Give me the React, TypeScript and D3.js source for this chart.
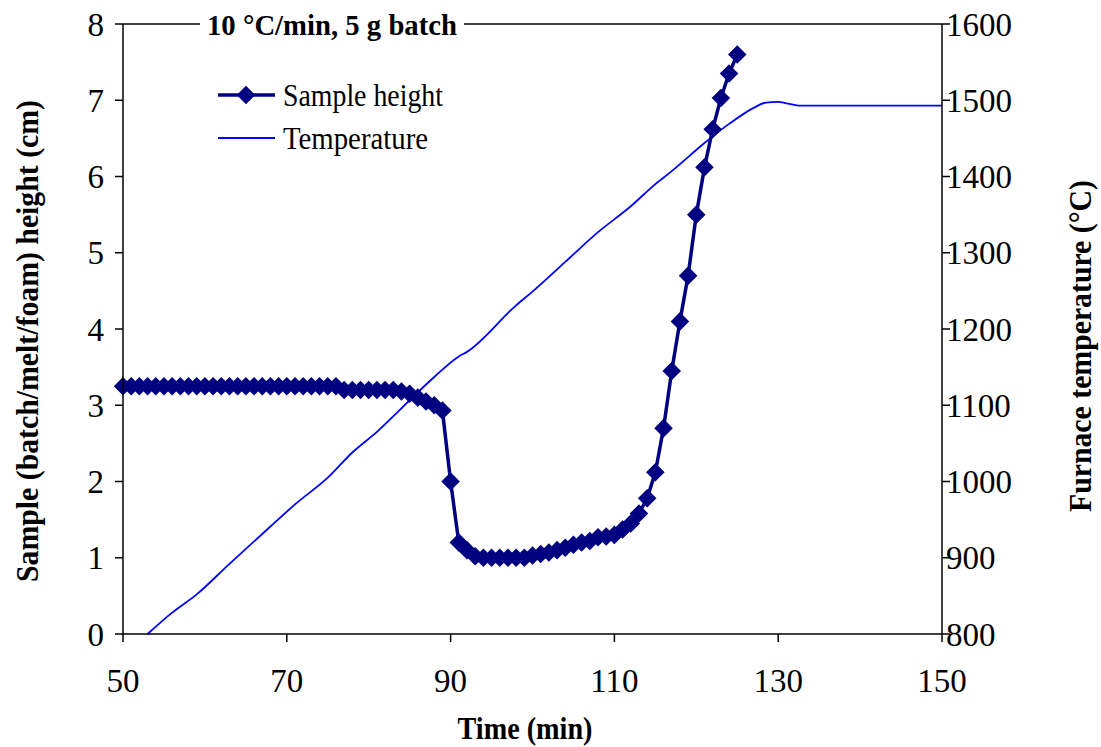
import React from "react";
import * as d3 from "d3";

const sampleTime = [50,51,52,53,54,55,56,57,58,59,60,61,62,63,64,65,66,67,68,69,70,71,72,73,74,75,76,77,78,79,80,81,82,83,84,85,86,87,88,89,90,91,92,93,94,95,96,97,98,99,100,101,102,103,104,105,106,107,108,109,110,111,112,113,114,115,116,117,118,119,120,121,122,123,124,125];
const sampleHeight = [3.25,3.25,3.25,3.25,3.25,3.25,3.25,3.25,3.25,3.25,3.25,3.25,3.25,3.25,3.25,3.25,3.25,3.25,3.25,3.25,3.25,3.25,3.25,3.25,3.25,3.25,3.25,3.2,3.2,3.2,3.2,3.2,3.2,3.2,3.18,3.15,3.1,3.05,3.0,2.93,2.0,1.2,1.1,1.02,1.0,1.0,1.0,1.0,1.0,1.0,1.03,1.05,1.07,1.1,1.13,1.17,1.2,1.22,1.27,1.28,1.3,1.37,1.45,1.58,1.78,2.12,2.7,3.45,4.1,4.7,5.5,6.12,6.62,7.03,7.35,7.6];

const tempTime = [53,56,59,63,68,71,75,78,81,84,88,91,92,98,100,104,108,112,115,117,121,124,127,128.5,130,131,132.5,150];
const temperature = [800,828,852,892,941,970,1005,1038,1065,1096,1137,1164,1170,1231,1249,1288,1327,1361,1390,1407,1444,1469,1490,1497,1498,1496,1493,1493];

const xTicks = [50,70,90,110,130,150];
const yLeftTicks = [0,1,2,3,4,5,6,7,8];
const yRightTicks = [800,900,1000,1100,1200,1300,1400,1500,1600];

const chartTitle = "10 \u00B0C/min, 5 g batch";
const xTitle = "Time (min)";
const yLeftTitle = "Sample (batch/melt/foam) height (cm)";
const yRightTitle = "Furnace temperature (\u00B0C)";
const legendSample = "Sample height";
const legendTemp = "Temperature";

const FONT = "'Liberation Serif', 'Times New Roman', serif";
const NAVY = "#000080";
const BLUE = "#0000FF";

export default function App() {
  const L = 123, R = 942, T = 24, B = 634;
  const x = d3.scaleLinear().domain([50, 150]).range([L, R]);
  const yL = d3.scaleLinear().domain([0, 8]).range([B, T]);
  const yR = d3.scaleLinear().domain([800, 1600]).range([B, T]);

  const sampleData = sampleTime.map((t, i) => [t, sampleHeight[i]] as [number, number]);
  const tempData = tempTime.map((t, i) => [t, temperature[i]] as [number, number]);

  const sampleLine = d3.line<[number, number]>().x(d => x(d[0])).y(d => yL(d[1]))(sampleData) || "";
  const tempLine = d3.line<[number, number]>().x(d => x(d[0])).y(d => yR(d[1])).curve(d3.curveMonotoneX)(tempData) || "";
  const diamond = d3.symbol().type(d3.symbolSquare).size(172)() || "";

  return (
    <svg width={1101} height={747} style={{ position: "absolute", left: 0, top: 0, background: "#fff" }} fontFamily={FONT}>
      <rect x={0} y={0} width={1101} height={747} fill="#fff" />
      <path d={tempLine} fill="none" stroke={BLUE} strokeWidth={1.8} />
      <path d={sampleLine} fill="none" stroke={NAVY} strokeWidth={3.5} />
      {sampleData.map((d, i) => (
        <path key={i} d={diamond} fill={NAVY} transform={`translate(${x(d[0])},${yL(d[1])}) rotate(45)`} />
      ))}
      <line x1={L} x2={L} y1={T} y2={B} stroke="#000" strokeWidth={1.5} />
      <line x1={R} x2={R} y1={T} y2={B} stroke="#000" strokeWidth={1.5} />
      <line x1={L} x2={R} y1={B} y2={B} stroke="#000" strokeWidth={1.5} />
      <line x1={L} x2={R} y1={T} y2={T} stroke="#000" strokeWidth={1.5} />
      {yLeftTicks.map(v => (
        <g key={"l" + v}>
          <line x1={L - 8} x2={L} y1={yL(v)} y2={yL(v)} stroke="#000" strokeWidth={1.5} />
          <text x={L - 19} y={yL(v)} dy="0.35em" textAnchor="end" fontSize={33}>{v}</text>
        </g>
      ))}
      {yRightTicks.map(v => (
        <g key={"r" + v}>
          <line x1={R} x2={R + 8} y1={yR(v)} y2={yR(v)} stroke="#000" strokeWidth={1.5} />
          <text x={R + 4} y={yR(v)} dy="0.35em" textAnchor="start" fontSize={33}>{v}</text>
        </g>
      ))}
      {xTicks.map(v => (
        <g key={"x" + v}>
          <line x1={x(v)} x2={x(v)} y1={B} y2={B + 8} stroke="#000" strokeWidth={1.5} />
          <text x={x(v)} y={680} dy="0.35em" textAnchor="middle" fontSize={33}>{v}</text>
        </g>
      ))}
      <rect x={200} y={8} width={264} height={32} fill="#fff" />
      <text x={332} y={24} dy="0.35em" textAnchor="middle" fontSize={30} fontWeight="bold" textLength={250} lengthAdjust="spacingAndGlyphs">{chartTitle}</text>
      <text x={525} y={728} dy="0.35em" textAnchor="middle" fontSize={31} fontWeight="bold" textLength={135} lengthAdjust="spacingAndGlyphs">{xTitle}</text>
      <text transform={`translate(27,341) rotate(-90)`} dy="0.35em" textAnchor="middle" fontSize={31} fontWeight="bold" textLength={482} lengthAdjust="spacingAndGlyphs">{yLeftTitle}</text>
      <text transform={`translate(1080,346) rotate(-90)`} dy="0.35em" textAnchor="middle" fontSize={31} fontWeight="bold" textLength={332} lengthAdjust="spacingAndGlyphs">{yRightTitle}</text>
      <line x1={218} x2={275} y1={95} y2={95} stroke={NAVY} strokeWidth={3.5} />
      <path d={diamond} fill={NAVY} transform={`translate(246,95) rotate(45)`} />
      <text x={283} y={95} dy="0.35em" fontSize={31} textLength={160} lengthAdjust="spacingAndGlyphs">{legendSample}</text>
      <line x1={218} x2={275} y1={138} y2={138} stroke={BLUE} strokeWidth={1.8} />
      <text x={283} y={138} dy="0.35em" fontSize={31} textLength={145} lengthAdjust="spacingAndGlyphs">{legendTemp}</text>
    </svg>
  );
}
